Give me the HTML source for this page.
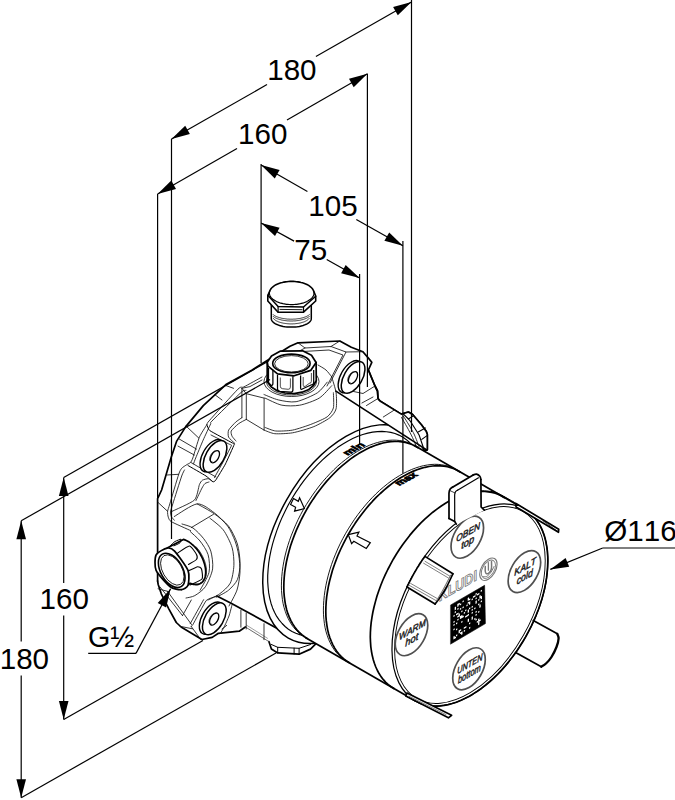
<!DOCTYPE html>
<html lang="de"><head><meta charset="utf-8"><title>KLUDI Unterputz-Einheit Ma&szlig;zeichnung</title>
<style>html,body{margin:0;padding:0;background:#fff}svg{display:block}</style></head>
<body>
<svg width="675" height="800" viewBox="0 0 675 800" font-family="'Liberation Sans', Arial, sans-serif" fill="#000" style="font-kerning:none">
<rect width="675" height="800" fill="#fff"/>
<path d="M157.6 581.0 L157.6 498.7 L161.6 490.0 L171.3 457.1 L176.7 441.1 L185.6 426.9 L203.3 405.6 L226.4 384.2 L252.2 370.0 L290.0 346.3 L298.0 342.8 L339.8 341.0 L351.3 347.2 L362.9 351.7 L368.2 357.9 L371.8 362.3 L368.4 370.0 L375.0 386.0 L377.5 391.0 L378.0 398.5 L380.0 401.0 L401.3 414.1 L408.4 412.0 L412.6 414.5 L421.6 425.0 L426.3 431.6 L427.3 434.6 L427.3 449.8 L423.3 450.7 L420.0 700.0 L311.7 640.3 L315.5 644.1 L310.5 649.1 L299.1 654.2 L277.7 652.9 L271.4 649.1 L268.9 641.6 L245.4 627.0 L239.2 631.2 L218.4 633.3 L212.2 637.4 L201.9 639.5 L181.1 627.0 L176.3 622.5 L168.8 608.8 L161.3 593.8 L158.2 584.5 Z" fill="#fff" stroke="#fff" stroke-width="0.1" stroke-linejoin="round" stroke-linecap="round"/>
<path d="M157.6 581.0 L157.6 498.7 L161.6 490.0 L171.3 457.1 L176.7 441.1 L185.6 426.9 L203.3 405.6 L226.4 384.2 L252.2 370.0 L290.0 346.3 L298.0 342.8 L339.8 341.0 L351.3 347.2 L362.9 351.7 L368.2 357.9 L371.8 362.3 L368.4 370.0 L375.0 386.0 L377.5 391.0 L378.0 398.5 L380.0 401.0 L401.3 414.1 L408.4 412.0 L412.6 414.5 L421.6 425.0 L426.3 431.6 L427.3 434.6 L427.3 449.8 L423.3 450.7" fill="none" stroke="#000" stroke-width="1.7" stroke-linejoin="round" stroke-linecap="round"/>
<path d="M311.7 640.3 L315.5 644.1 L310.5 649.1 L299.1 654.2 L277.7 652.9 L271.4 649.1 L268.9 641.6" fill="none" stroke="#000" stroke-width="1.7" stroke-linejoin="round" stroke-linecap="round"/>
<path d="M245.4 627.0 L239.2 631.2 L218.4 633.3 L212.2 637.4 L201.9 639.5 L181.1 627.0 L176.3 622.5 L168.8 608.8 L161.3 593.8 L158.2 584.5 L157.6 581.0" fill="none" stroke="#000" stroke-width="1.7" stroke-linejoin="round" stroke-linecap="round"/>
<path d="M268.9 641.6 L245.4 627.0" fill="none" stroke="#444" stroke-width="0.8" stroke-linejoin="round" stroke-linecap="round"/>
<path d="M267.5 638.3 L246.6 625.2" fill="none" stroke="#777" stroke-width="0.7" stroke-linejoin="round" stroke-linecap="round"/>
<path d="M216.9 596.1 L231.1 603.2 L280.0 629.9 L300.0 641.5" fill="none" stroke="#000" stroke-width="1.7" stroke-linejoin="round" stroke-linecap="round"/>
<path d="M262.0 377.0 C260.2 378.0 246.3 385.7 243.9 386.9 C241.5 388.1 241.5 385.7 238.0 389.1 C234.5 392.5 212.2 417.3 209.1 420.9 C206.0 424.4 207.9 423.0 206.9 424.6 C205.9 426.2 200.8 433.9 199.4 437.2 C198.0 440.5 193.7 455.5 192.8 458.0 C191.9 460.5 191.1 461.8 190.5 462.5 C189.9 463.2 187.8 464.0 186.9 464.6 C186.0 465.2 182.5 467.3 181.7 468.3 C180.9 469.3 179.9 470.7 178.7 474.3 C177.5 477.9 170.9 500.2 169.8 503.9 C168.7 507.6 167.8 510.0 167.6 511.3 C167.4 512.6 167.9 516.2 168.3 517.2 C168.7 518.2 169.1 520.4 171.3 521.7 C173.5 523.0 188.7 529.7 190.6 530.6" fill="none" stroke="#111" stroke-width="0.85" stroke-linejoin="round" stroke-linecap="round"/>
<path d="M246.0 390.5 C245.5 390.7 244.4 389.4 241.0 392.5 C237.6 395.6 215.0 417.9 212.0 421.0 C209.0 424.1 211.5 422.1 210.6 424.0 C209.7 425.9 204.6 436.8 203.1 440.2 C201.6 443.6 196.7 455.6 195.7 458.0 C194.7 460.4 193.7 463.3 193.5 463.9" fill="none" stroke="#111" stroke-width="0.85" stroke-linejoin="round" stroke-linecap="round"/>
<path d="M184.5 470.0 C184.2 470.6 182.9 472.6 181.7 476.0 C180.5 479.4 173.9 500.4 172.8 503.9 C171.7 507.4 170.8 510.0 170.6 511.3 C170.4 512.6 170.9 515.6 171.3 516.5 C171.7 517.4 174.0 519.8 174.3 520.2" fill="none" stroke="#111" stroke-width="0.85" stroke-linejoin="round" stroke-linecap="round"/>
<path d="M206.9 424.6 C207.1 425.0 208.1 429.4 209.8 430.6 C211.5 431.8 230.7 442.0 232.3 442.9 C233.9 443.8 234.7 443.1 234.2 444.5 C233.7 445.9 226.7 461.5 225.5 463.9 C224.3 466.3 216.5 479.0 215.7 480.2 C214.9 481.4 213.4 482.0 212.8 481.7 C212.2 481.4 207.7 477.1 206.0 476.0 C204.3 474.9 189.2 466.2 188.0 465.5" fill="none" stroke="#000" stroke-width="1.0" stroke-linejoin="round" stroke-linecap="round"/>
<path d="M211.0 435.0 C212.2 435.6 228.1 443.6 229.5 444.3 C230.9 445.0 231.9 444.6 231.4 445.8 C230.9 447.0 223.6 460.9 222.5 463.0 C221.4 465.1 215.0 476.5 214.5 477.5" fill="none" stroke="#111" stroke-width="0.85" stroke-linejoin="round" stroke-linecap="round"/>
<path d="M216.0 477.0 L208.0 472.5 L191.0 462.5" fill="none" stroke="#111" stroke-width="0.85" stroke-linejoin="round" stroke-linecap="round"/>
<path d="M170.6 512.0 C173.0 510.8 191.4 502.9 194.3 500.2 C197.2 497.5 198.6 486.6 199.4 484.6 C200.2 482.6 201.5 480.8 202.4 480.2 C203.3 479.6 207.3 478.6 208.3 478.7 C209.3 478.8 212.4 481.4 212.8 481.7" fill="none" stroke="#111" stroke-width="0.85" stroke-linejoin="round" stroke-linecap="round"/>
<path d="M174.3 516.5 C177.4 514.8 191.9 504.4 197.2 503.9 C202.5 503.4 210.2 509.8 214.3 512.8 C218.4 515.8 224.8 522.4 227.6 526.1 C230.4 529.8 233.5 537.0 235.0 540.9 C236.5 544.8 238.0 550.9 238.7 555.0 C239.4 559.1 240.2 567.3 240.0 572.0 C239.8 576.7 238.5 585.5 237.0 590.0 C235.5 594.5 230.1 603.9 229.0 606.0" fill="none" stroke="#111" stroke-width="0.85" stroke-linejoin="round" stroke-linecap="round"/>
<path d="M196.0 500.5 C196.6 499.2 201.1 489.7 202.0 488.0 C202.9 486.3 204.3 484.1 205.0 483.5 C205.7 482.9 208.6 482.1 209.0 482.0" fill="none" stroke="#111" stroke-width="0.85" stroke-linejoin="round" stroke-linecap="round"/>
<path d="M191.3 527.6 L213.5 514.3" fill="none" stroke="#111" stroke-width="0.85" stroke-linejoin="round" stroke-linecap="round"/>
<path d="M158.0 502.4 L167.6 511.3" fill="none" stroke="#111" stroke-width="0.85" stroke-linejoin="round" stroke-linecap="round"/>
<path d="M186.1 426.1 L198.7 438.0" fill="none" stroke="#111" stroke-width="0.85" stroke-linejoin="round" stroke-linecap="round"/>
<path d="M178.7 438.7 L196.5 449.1" fill="none" stroke="#111" stroke-width="0.85" stroke-linejoin="round" stroke-linecap="round"/>
<path d="M178.0 446.1 L194.3 455.0" fill="none" stroke="#111" stroke-width="0.85" stroke-linejoin="round" stroke-linecap="round"/>
<path d="M214.3 394.3 L222.0 400.0" fill="none" stroke="#111" stroke-width="0.85" stroke-linejoin="round" stroke-linecap="round"/>
<path d="M225.4 385.4 L233.5 388.3" fill="none" stroke="#111" stroke-width="0.85" stroke-linejoin="round" stroke-linecap="round"/>
<path d="M166.9 475.0 L178.7 474.3" fill="none" stroke="#111" stroke-width="0.85" stroke-linejoin="round" stroke-linecap="round"/>
<path d="M241.9 388.3 L241.9 417.7" fill="none" stroke="#111" stroke-width="0.85" stroke-linejoin="round" stroke-linecap="round"/>
<path d="M246.3 393.7 L246.3 419.4" fill="none" stroke="#111" stroke-width="0.85" stroke-linejoin="round" stroke-linecap="round"/>
<path d="M264.1 398.1 L264.1 430.1" fill="none" stroke="#111" stroke-width="0.85" stroke-linejoin="round" stroke-linecap="round"/>
<path d="M241.9 388.3 L246.3 393.7 L264.1 398.1" fill="none" stroke="#111" stroke-width="0.85" stroke-linejoin="round" stroke-linecap="round"/>
<path d="M246.3 419.4 L264.1 430.1" fill="none" stroke="#111" stroke-width="0.85" stroke-linejoin="round" stroke-linecap="round"/>
<path d="M241.9 388.3 L249.9 386.6 L262.0 380.0" fill="none" stroke="#111" stroke-width="0.85" stroke-linejoin="round" stroke-linecap="round"/>
<path d="M241.9 417.7 C241.3 418.1 237.0 420.9 235.7 422.1 C234.4 423.3 229.3 428.6 228.6 430.1 C227.9 431.6 228.0 435.9 228.6 437.2 C229.2 438.5 234.2 442.8 234.8 443.4" fill="none" stroke="#111" stroke-width="0.85" stroke-linejoin="round" stroke-linecap="round"/>
<path d="M246.3 419.4 C245.5 419.8 239.8 422.7 238.3 423.9 C236.8 425.1 231.8 429.8 231.2 431.0 C230.6 432.2 231.6 435.3 232.1 436.3 C232.6 437.3 235.6 440.5 236.0 441.0" fill="none" stroke="#111" stroke-width="0.85" stroke-linejoin="round" stroke-linecap="round"/>
<ellipse cx="212.1" cy="455.7" rx="17.8" ry="9.4" transform="rotate(-60 212.1 455.7)" fill="#fff" stroke="#000" stroke-width="1.4"/>
<ellipse cx="215.0" cy="456.4" rx="17.6" ry="9.2" transform="rotate(-60 215.0 456.4)" fill="#fff" stroke="#000" stroke-width="1.5"/>
<ellipse cx="214.9" cy="456.7" rx="6.7" ry="3.7" transform="rotate(-60 214.9 456.7)" fill="none" stroke="#000" stroke-width="1.3"/>
<path d="M212.0 461.7 L211.8 461.8 L211.6 461.7 L211.4 461.7 L211.3 461.7 L211.1 461.6 L211.0 461.6 L210.8 461.5 L210.7 461.4 L210.5 461.3 L210.4 461.2 L210.3 461.1 L210.2 460.9 L210.1 460.8 L210.0 460.6 L209.9 460.5 L209.9 460.3 L209.8 460.1 L209.8 459.9 L209.7 459.7 L209.7 459.5 L209.7 459.3 L209.7 459.0 L209.7 458.8 L209.7 458.6 L209.7 458.3 L209.7 458.0 L209.8 457.8 L209.8 457.5 L209.9 457.3 L209.9 457.0 L210.0 456.7 L210.1 456.5 L210.2 456.2 L210.3 455.9 L210.4 455.7 L210.6 455.4 L210.7 455.1 L210.8 454.9 L211.0 454.6 L211.1 454.4 L211.3 454.1 L211.4 453.9 L211.6 453.6 L211.8 453.4 L212.0 453.2 L212.2 452.9 L212.4 452.7 L212.5 452.5 L212.7 452.3 L212.9 452.2 L213.1 452.0 L213.3 451.8 L213.6 451.7 L213.8 451.5 L214.0 451.4 L214.2 451.3 L214.4 451.2 L214.6 451.1 L214.8 451.0 L215.0 451.0" fill="none" stroke="#111" stroke-width="0.85" stroke-linejoin="round" stroke-linecap="round"/>
<ellipse cx="350.2" cy="376.7" rx="17.8" ry="9.4" transform="rotate(-60 350.2 376.7)" fill="#fff" stroke="#000" stroke-width="1.4"/>
<ellipse cx="353.1" cy="377.4" rx="17.6" ry="9.2" transform="rotate(-60 353.1 377.4)" fill="#fff" stroke="#000" stroke-width="1.5"/>
<ellipse cx="353.0" cy="377.7" rx="6.7" ry="3.7" transform="rotate(-60 353.0 377.7)" fill="none" stroke="#000" stroke-width="1.3"/>
<path d="M350.1 382.7 L349.9 382.8 L349.7 382.7 L349.5 382.7 L349.4 382.7 L349.2 382.6 L349.1 382.6 L348.9 382.5 L348.8 382.4 L348.6 382.3 L348.5 382.2 L348.4 382.1 L348.3 381.9 L348.2 381.8 L348.1 381.6 L348.0 381.5 L348.0 381.3 L347.9 381.1 L347.9 380.9 L347.8 380.7 L347.8 380.5 L347.8 380.3 L347.8 380.0 L347.8 379.8 L347.8 379.6 L347.8 379.3 L347.8 379.0 L347.9 378.8 L347.9 378.5 L348.0 378.3 L348.0 378.0 L348.1 377.7 L348.2 377.5 L348.3 377.2 L348.4 376.9 L348.5 376.7 L348.7 376.4 L348.8 376.1 L348.9 375.9 L349.1 375.6 L349.2 375.4 L349.4 375.1 L349.5 374.9 L349.7 374.6 L349.9 374.4 L350.1 374.2 L350.3 373.9 L350.5 373.7 L350.6 373.5 L350.8 373.3 L351.0 373.2 L351.2 373.0 L351.4 372.8 L351.7 372.7 L351.9 372.5 L352.1 372.4 L352.3 372.3 L352.5 372.2 L352.7 372.1 L352.9 372.0 L353.1 372.0" fill="none" stroke="#111" stroke-width="0.85" stroke-linejoin="round" stroke-linecap="round"/>
<ellipse cx="211.4" cy="618.1" rx="17.8" ry="9.4" transform="rotate(-60 211.4 618.1)" fill="#fff" stroke="#000" stroke-width="1.4"/>
<ellipse cx="214.3" cy="618.8" rx="17.6" ry="9.2" transform="rotate(-60 214.3 618.8)" fill="#fff" stroke="#000" stroke-width="1.5"/>
<ellipse cx="214.2" cy="619.1" rx="6.7" ry="3.7" transform="rotate(-60 214.2 619.1)" fill="none" stroke="#000" stroke-width="1.3"/>
<path d="M211.3 624.1 L211.1 624.2 L210.9 624.1 L210.7 624.1 L210.6 624.1 L210.4 624.0 L210.3 624.0 L210.1 623.9 L210.0 623.8 L209.8 623.7 L209.7 623.6 L209.6 623.5 L209.5 623.3 L209.4 623.2 L209.3 623.0 L209.2 622.9 L209.2 622.7 L209.1 622.5 L209.1 622.3 L209.0 622.1 L209.0 621.9 L209.0 621.7 L209.0 621.4 L209.0 621.2 L209.0 621.0 L209.0 620.7 L209.0 620.4 L209.1 620.2 L209.1 619.9 L209.2 619.7 L209.2 619.4 L209.3 619.1 L209.4 618.9 L209.5 618.6 L209.6 618.3 L209.7 618.1 L209.9 617.8 L210.0 617.5 L210.1 617.3 L210.3 617.0 L210.4 616.8 L210.6 616.5 L210.7 616.3 L210.9 616.0 L211.1 615.8 L211.3 615.6 L211.5 615.3 L211.7 615.1 L211.8 614.9 L212.0 614.7 L212.2 614.6 L212.4 614.4 L212.6 614.2 L212.9 614.1 L213.1 613.9 L213.3 613.8 L213.5 613.7 L213.7 613.6 L213.9 613.5 L214.1 613.4 L214.3 613.4" fill="none" stroke="#111" stroke-width="0.85" stroke-linejoin="round" stroke-linecap="round"/>
<path d="M216.9 596.1 C216.2 596.4 207.8 598.7 206.2 600.6 C204.6 602.5 193.9 622.9 192.9 624.6 C191.9 626.3 191.2 626.2 191.1 626.3" fill="none" stroke="#111" stroke-width="0.85" stroke-linejoin="round" stroke-linecap="round"/>
<path d="M203.6 599.7 C201.8 602.9 192.0 620.5 190.2 623.7" fill="none" stroke="#111" stroke-width="0.85" stroke-linejoin="round" stroke-linecap="round"/>
<path d="M191.1 626.3 L200.9 639.7" fill="none" stroke="#111" stroke-width="0.85" stroke-linejoin="round" stroke-linecap="round"/>
<path d="M158.1 588.8 L167.5 591.3" fill="none" stroke="#111" stroke-width="0.85" stroke-linejoin="round" stroke-linecap="round"/>
<path d="M160.0 586.9 L182.5 615.6" fill="none" stroke="#111" stroke-width="0.85" stroke-linejoin="round" stroke-linecap="round"/>
<path d="M167.5 591.3 L191.5 624.5" fill="none" stroke="#111" stroke-width="0.85" stroke-linejoin="round" stroke-linecap="round"/>
<path d="M182.5 615.6 L191.3 600.0" fill="none" stroke="#111" stroke-width="0.85" stroke-linejoin="round" stroke-linecap="round"/>
<path d="M180.0 626.3 L192.5 628.8" fill="none" stroke="#111" stroke-width="0.85" stroke-linejoin="round" stroke-linecap="round"/>
<path d="M232.0 605.0 C231.7 606.1 229.8 613.8 229.0 616.0 C228.2 618.2 224.9 625.5 224.0 627.2 C223.1 628.9 220.8 632.8 220.4 633.4" fill="none" stroke="#111" stroke-width="0.85" stroke-linejoin="round" stroke-linecap="round"/>
<path d="M222.0 629.0 L226.7 625.4" fill="none" stroke="#111" stroke-width="0.85" stroke-linejoin="round" stroke-linecap="round"/>
<path d="M240.9 610.3 L240.9 627.2" fill="none" stroke="#111" stroke-width="0.85" stroke-linejoin="round" stroke-linecap="round"/>
<path d="M246.2 613.0 L246.2 629.0" fill="none" stroke="#111" stroke-width="0.85" stroke-linejoin="round" stroke-linecap="round"/>
<path d="M264.0 623.7 L264.0 639.7" fill="none" stroke="#111" stroke-width="0.85" stroke-linejoin="round" stroke-linecap="round"/>
<path d="M298.0 342.8 L305.0 348.0 L331.0 346.5 L346.0 352.0 L330.0 383.0" fill="none" stroke="#111" stroke-width="0.85" stroke-linejoin="round" stroke-linecap="round"/>
<path d="M303.0 351.5 L329.0 350.0 L343.0 355.0 L327.0 386.0" fill="none" stroke="#111" stroke-width="0.85" stroke-linejoin="round" stroke-linecap="round"/>
<path d="M346.0 352.0 L362.9 351.7" fill="none" stroke="#111" stroke-width="0.85" stroke-linejoin="round" stroke-linecap="round"/>
<path d="M331.0 346.5 L339.8 341.0" fill="none" stroke="#111" stroke-width="0.85" stroke-linejoin="round" stroke-linecap="round"/>
<path d="M305.0 348.0 L290.0 356.0" fill="none" stroke="#111" stroke-width="0.85" stroke-linejoin="round" stroke-linecap="round"/>
<path d="M331.7 376.8 C332.2 378.7 335.6 389.1 336.1 392.8 C336.6 396.5 336.8 405.9 336.1 408.8 C335.4 411.7 332.5 415.6 329.9 417.7 C327.3 419.8 318.3 424.8 313.9 426.6 C309.5 428.4 297.2 432.0 292.6 432.8 C288.0 433.6 278.1 434.0 274.8 433.7 C271.5 433.4 265.3 430.5 264.1 430.1" fill="none" stroke="#111" stroke-width="0.85" stroke-linejoin="round" stroke-linecap="round"/>
<path d="M333.4 392.8 C333.4 394.6 334.1 405.1 333.4 407.9 C332.7 410.7 329.7 414.9 327.2 416.8 C324.7 418.7 316.1 422.3 312.1 423.9 C308.1 425.5 296.8 429.3 292.6 430.1 C288.4 430.9 278.9 431.3 275.7 431.0 C272.5 430.7 266.2 427.8 265.0 427.4" fill="none" stroke="#111" stroke-width="0.85" stroke-linejoin="round" stroke-linecap="round"/>
<path d="M265.0 398.1 C267.3 399.0 277.3 404.3 281.9 405.2 C286.5 406.1 294.7 406.1 299.7 405.2 C304.7 404.3 314.9 400.7 319.2 398.1 C323.5 395.5 330.0 387.4 331.7 385.7" fill="none" stroke="#111" stroke-width="0.85" stroke-linejoin="round" stroke-linecap="round"/>
<path d="M264.0 394.5 C265.9 395.2 274.0 398.9 278.3 399.9 C282.6 400.9 290.9 402.6 296.1 401.7 C301.3 400.8 313.3 395.4 317.4 392.8 C321.5 390.2 325.9 383.5 327.2 382.1" fill="none" stroke="#111" stroke-width="0.85" stroke-linejoin="round" stroke-linecap="round"/>
<path d="M318.0 365.0 C319.1 365.7 324.2 368.4 326.0 370.0 C327.8 371.6 330.9 375.9 331.7 376.8" fill="none" stroke="#111" stroke-width="0.85" stroke-linejoin="round" stroke-linecap="round"/>
<ellipse cx="291.5" cy="381.5" rx="27.5" ry="15.0" transform="rotate(0 291.5 381.5)" fill="none" stroke="#111" stroke-width="0.85"/>
<ellipse cx="291.5" cy="381.5" rx="25.0" ry="13.5" transform="rotate(0 291.5 381.5)" fill="none" stroke="#111" stroke-width="0.85"/>
<path d="M267.2 362.2 L267.2 381.5 L271.0 386.8 L277.5 391.0 L285.0 393.0 L294.1 393.6 L302.0 392.2 L308.3 389.8 L313.5 385.5 L316.3 380.5 L316.1 362.5 L311.5 355.3 L302.6 350.8 L280.5 351.1 L271.5 356.0 Z" fill="#fff" stroke="#000" stroke-width="1.7" stroke-linejoin="round" stroke-linecap="round"/>
<path d="M267.2 362.2 L268.0 366.1 L277.5 373.8 L294.1 375.8 L310.7 370.4 L316.1 362.5" fill="none" stroke="#000" stroke-width="1.7" stroke-linejoin="round" stroke-linecap="round"/>
<ellipse cx="291.4" cy="363.4" rx="18.7" ry="9.3" transform="rotate(0 291.4 363.4)" fill="none" stroke="#000" stroke-width="1.6"/>
<ellipse cx="291.4" cy="363.8" rx="16.8" ry="8.2" transform="rotate(0 291.4 363.8)" fill="none" stroke="#111" stroke-width="0.85"/>
<path d="M277.5 375.0 L277.5 388.8 Q277.5 391.0 279.7 391.4 L290.7 392.2 Q292.9 392.2 292.9 390.0 L292.9 376.2" fill="none" stroke="#000" stroke-width="1.25" stroke-linejoin="round"/>
<path d="M280.3 377.5 L280.3 386.2 Q280.3 388.4 282.5 388.7 L288.2 389.3 Q290.4 389.3 290.4 387.1 L290.4 378.4" fill="none" stroke="#000" stroke-width="0.7" stroke-linejoin="round"/>
<path d="M300.6 375.5 L300.6 388.1 Q300.6 390.3 302.8 388.7 L311.5 384.8 Q313.7 384.8 313.7 382.6 L313.7 370.0" fill="none" stroke="#000" stroke-width="1.25" stroke-linejoin="round"/>
<path d="M303.2 377.0 L303.2 385.2 Q303.2 387.4 305.4 386.2 L309.2 383.4 Q311.4 383.4 311.4 381.2 L311.4 373.0" fill="none" stroke="#000" stroke-width="0.7" stroke-linejoin="round"/>
<path d="M268.5 368.0 L268.5 381.8 Q268.5 384.0 270.7 384.5 L270.7 385.8 Q272.9 385.8 272.9 383.6 L272.9 369.8" fill="none" stroke="#000" stroke-width="1.25" stroke-linejoin="round"/>
<path d="M271.3 303.0 L271.3 318.5 L271.3 318.5 L271.4 319.4 L271.7 320.3 L272.3 321.2 L273.0 322.0 L274.0 322.8 L275.1 323.6 L276.4 324.3 L277.9 324.9 L279.5 325.5 L281.3 325.9 L283.2 326.4 L285.1 326.7 L287.1 326.9 L289.2 327.1 L291.3 327.1 L293.4 327.1 L295.5 326.9 L297.5 326.7 L299.4 326.4 L301.3 325.9 L303.1 325.5 L304.7 324.9 L306.2 324.3 L307.5 323.6 L308.6 322.8 L309.6 322.0 L310.3 321.2 L310.9 320.3 L311.2 319.4 L311.3 318.5 L311.3 303.0" fill="#fff" stroke="#000" stroke-width="1.5" stroke-linejoin="round" stroke-linecap="round"/>
<path d="M309.4 316.4 L309.1 316.7 L308.7 316.9 L308.4 317.2 L307.9 317.4 L307.5 317.7 L307.1 317.9 L306.6 318.2 L306.1 318.4 L305.6 318.6 L305.0 318.8 L304.5 319.0 L303.9 319.2 L303.3 319.4 L302.7 319.6 L302.0 319.7 L301.4 319.9 L300.7 320.1 L300.1 320.2 L299.4 320.3 L298.7 320.4 L298.0 320.5 L297.3 320.6 L296.5 320.7 L295.8 320.8 L295.1 320.9 L294.3 320.9 L293.6 320.9 L292.8 321.0 L292.1 321.0 L291.3 321.0 L290.5 321.0 L289.8 321.0 L289.0 320.9 L288.3 320.9 L287.5 320.9 L286.8 320.8 L286.1 320.7 L285.3 320.6 L284.6 320.5 L283.9 320.4 L283.2 320.3 L282.5 320.2 L281.9 320.1 L281.2 319.9 L280.6 319.7 L279.9 319.6 L279.3 319.4 L278.7 319.2 L278.1 319.0 L277.6 318.8 L277.0 318.6 L276.5 318.4 L276.0 318.2 L275.5 317.9 L275.1 317.7 L274.7 317.4 L274.2 317.2 L273.9 316.9 L273.5 316.7 L273.2 316.4" fill="none" stroke="#111" stroke-width="0.85" stroke-linejoin="round" stroke-linecap="round"/>
<path d="M309.4 314.6 L309.1 314.9 L308.7 315.1 L308.4 315.4 L307.9 315.6 L307.5 315.9 L307.1 316.1 L306.6 316.4 L306.1 316.6 L305.6 316.8 L305.0 317.0 L304.5 317.2 L303.9 317.4 L303.3 317.6 L302.7 317.8 L302.0 317.9 L301.4 318.1 L300.7 318.3 L300.1 318.4 L299.4 318.5 L298.7 318.6 L298.0 318.7 L297.3 318.8 L296.5 318.9 L295.8 319.0 L295.1 319.1 L294.3 319.1 L293.6 319.1 L292.8 319.2 L292.1 319.2 L291.3 319.2 L290.5 319.2 L289.8 319.2 L289.0 319.1 L288.3 319.1 L287.5 319.1 L286.8 319.0 L286.1 318.9 L285.3 318.8 L284.6 318.7 L283.9 318.6 L283.2 318.5 L282.5 318.4 L281.9 318.3 L281.2 318.1 L280.6 317.9 L279.9 317.8 L279.3 317.6 L278.7 317.4 L278.1 317.2 L277.6 317.0 L277.0 316.8 L276.5 316.6 L276.0 316.4 L275.5 316.1 L275.1 315.9 L274.7 315.6 L274.2 315.4 L273.9 315.1 L273.5 314.9 L273.2 314.6" fill="none" stroke="#111" stroke-width="0.85" stroke-linejoin="round" stroke-linecap="round"/>
<path d="M267.8 295.5 L267.8 301.0 L278.1 312.2 L303.5 312.2 L315.7 301.0 L315.7 296.0 L313.8 291.4 L313.5 290.6 L313.1 289.8 L312.6 289.0 L312.0 288.2 L311.3 287.5 L310.5 286.8 L309.6 286.1 L308.6 285.4 L307.5 284.8 L306.3 284.2 L305.1 283.7 L303.8 283.2 L302.4 282.8 L301.0 282.5 L299.5 282.1 L298.0 281.9 L296.5 281.7 L294.9 281.5 L293.3 281.4 L291.7 281.4 L290.1 281.4 L288.5 281.5 L286.9 281.7 L285.4 281.9 L283.9 282.1 L282.4 282.5 L281.0 282.8 L279.6 283.2 L278.3 283.7 L277.1 284.2 L275.9 284.8 L274.8 285.4 L273.8 286.1 L272.9 286.8 L272.1 287.5 L271.4 288.2 L270.8 289.0 L270.3 289.8 L269.9 290.6 L269.6 291.4 Z" fill="#fff" stroke="#000" stroke-width="1.6" stroke-linejoin="round" stroke-linecap="round"/>
<path d="M267.8 295.3 L278.1 306.6 L303.5 307.0 L315.7 296.3" fill="none" stroke="#000" stroke-width="1.5" stroke-linejoin="round" stroke-linecap="round"/>
<path d="M278.1 306.6 L278.1 312.2" fill="none" stroke="#000" stroke-width="1.2" stroke-linejoin="round" stroke-linecap="round"/>
<path d="M303.5 307.0 L303.5 312.2" fill="none" stroke="#000" stroke-width="1.2" stroke-linejoin="round" stroke-linecap="round"/>
<path d="M313.8 291.4 L313.9 292.0 L314.0 292.7 L314.0 293.4 L313.9 294.0 L313.8 294.7 L313.5 295.3 L313.3 296.0 L312.9 296.6 L312.5 297.2 L312.0 297.8 L311.4 298.4 L310.8 299.0 L310.1 299.6 L309.3 300.1 L308.5 300.6 L307.7 301.1 L306.8 301.6 L305.8 302.0 L304.8 302.4 L303.7 302.8 L302.6 303.1 L301.5 303.4 L300.4 303.7 L299.2 303.9 L298.0 304.1 L296.7 304.3 L295.5 304.4 L294.2 304.5 L293.0 304.6 L291.7 304.6 L290.4 304.6 L289.2 304.5 L287.9 304.4 L286.7 304.3 L285.4 304.1 L284.2 303.9 L283.0 303.7 L281.9 303.4 L280.8 303.1 L279.7 302.8 L278.6 302.4 L277.6 302.0 L276.6 301.6 L275.7 301.1 L274.9 300.6 L274.1 300.1 L273.3 299.6 L272.6 299.0 L272.0 298.4 L271.4 297.8 L270.9 297.2 L270.5 296.6 L270.1 296.0 L269.9 295.3 L269.6 294.7 L269.5 294.0 L269.4 293.4 L269.4 292.7 L269.5 292.0 L269.6 291.4" fill="none" stroke="#000" stroke-width="1.2" stroke-linejoin="round" stroke-linecap="round"/>
<path d="M280.0 309.4 L302.0 309.7" fill="none" stroke="#000" stroke-width="0.9" stroke-linejoin="round" stroke-linecap="round"/>
<path d="M309.3 318.3 L309.0 318.6 L308.8 318.9 L308.5 319.2 L308.2 319.5 L307.8 319.8 L307.4 320.1 L307.0 320.4 L306.5 320.7 L306.1 320.9 L305.5 321.2 L305.0 321.4 L304.5 321.7 L303.9 321.9 L303.3 322.1 L302.6 322.3 L302.0 322.5 L301.3 322.7 L300.6 322.9 L299.9 323.0 L299.2 323.2 L298.4 323.3 L297.7 323.4 L296.9 323.5 L296.1 323.6 L295.3 323.7 L294.5 323.8 L293.7 323.8 L292.9 323.9 L292.1 323.9 L291.3 323.9 L290.5 323.9 L289.7 323.9 L288.9 323.8 L288.1 323.8 L287.3 323.7 L286.5 323.6 L285.7 323.5 L284.9 323.4 L284.2 323.3 L283.4 323.2 L282.7 323.0 L282.0 322.9 L281.3 322.7 L280.6 322.5 L280.0 322.3 L279.3 322.1 L278.7 321.9 L278.1 321.7 L277.6 321.4 L277.1 321.2 L276.5 320.9 L276.1 320.7 L275.6 320.4 L275.2 320.1 L274.8 319.8 L274.4 319.5 L274.1 319.2 L273.8 318.9 L273.6 318.6 L273.3 318.3" fill="none" stroke="#111" stroke-width="0.85" stroke-linejoin="round" stroke-linecap="round"/>
<path d="M197.2 503.9 C199.5 505.2 210.1 510.8 214.3 513.8 C218.5 516.8 225.5 522.2 228.6 526.2 C231.7 530.2 235.9 539.0 237.4 544.0 C238.9 549.0 240.1 558.9 240.1 563.6 C240.1 568.3 238.9 576.1 237.4 579.6 C235.9 583.1 231.4 587.8 228.6 590.2 C225.8 592.6 217.8 596.4 216.1 597.3" fill="none" stroke="#111" stroke-width="0.85" stroke-linejoin="round" stroke-linecap="round"/>
<path d="M209.9 518.2 C211.7 519.7 220.2 525.9 223.2 529.8 C226.2 533.7 230.7 542.9 232.1 547.6 C233.5 552.3 234.1 560.6 233.9 565.3 C233.7 570.0 232.2 579.3 230.3 583.1 C228.4 586.9 222.7 591.5 219.7 593.8 C216.7 596.1 209.6 599.2 208.0 600.0" fill="none" stroke="#111" stroke-width="0.85" stroke-linejoin="round" stroke-linecap="round"/>
<path d="M182.0 524.0 C183.5 524.5 190.1 526.0 193.0 528.0 C195.9 530.0 201.3 535.6 203.7 538.7 C206.1 541.8 209.6 547.1 210.8 551.1 C212.0 555.1 213.3 564.2 212.6 568.9 C211.9 573.6 207.8 583.1 205.4 586.7 C203.0 590.3 197.4 594.1 194.8 595.6 C192.2 597.1 187.2 597.7 186.0 598.0" fill="none" stroke="#111" stroke-width="0.85" stroke-linejoin="round" stroke-linecap="round"/>
<path d="M190.3 531.6 C191.6 532.9 197.6 537.9 200.0 541.0 C202.4 544.1 206.9 550.5 208.1 554.7 C209.3 558.9 210.1 567.7 209.0 572.4 C207.9 577.1 201.3 587.8 200.1 590.2" fill="none" stroke="#111" stroke-width="0.85" stroke-linejoin="round" stroke-linecap="round"/>
<path d="M167.2 548.1 L183.4 539.4 L184.8 539.9 L186.3 540.5 L187.7 541.2 L189.2 542.1 L190.6 543.1 L192.0 544.3 L193.4 545.5 L194.8 546.9 L196.1 548.3 L197.4 549.9 L198.6 551.5 L199.7 553.2 L200.7 555.0 L201.7 556.8 L202.6 558.6 L203.3 560.5 L204.0 562.4 L204.6 564.3 L205.0 566.1 L205.4 567.9 L205.6 569.7 L205.7 571.4 L205.7 573.1 L205.5 574.7 L205.3 576.2 L204.9 577.6 L204.4 578.9 L203.8 580.1 L203.1 581.1 L202.3 582.1 L201.4 582.8 L200.4 583.5 L199.3 584.0 L198.2 584.4 L197.0 584.6 L195.7 584.6 L194.4 584.5 L193.0 584.3 L191.6 583.9 L190.2 583.3 L181.3 589.6 Z" fill="#fff" stroke="#000" stroke-width="1.7" stroke-linejoin="round" stroke-linecap="round"/>
<path d="M196.3 547.0 L196.9 547.8 L197.5 548.5 L198.2 549.3 L198.8 550.1 L199.4 550.9 L199.9 551.8 L200.5 552.6 L201.0 553.5 L201.5 554.4 L202.0 555.3 L202.5 556.2 L202.9 557.1 L203.3 558.0 L203.7 558.9 L204.1 559.8 L204.5 560.8 L204.8 561.7 L205.1 562.6 L205.3 563.5 L205.6 564.5 L205.8 565.4 L206.0 566.3 L206.1 567.2 L206.3 568.1 L206.4 569.0 L206.4 569.8 L206.5 570.7 L206.5 571.5 L206.5 572.3 L206.4 573.1 L206.3 573.9 L206.2 574.7 L206.1 575.4 L205.9 576.1 L205.7 576.8 L205.5 577.5 L205.3 578.1 L205.0 578.7 L204.7 579.3 L204.4 579.9 L204.0 580.4 L203.6 580.9 L203.2 581.3 L202.8 581.8 L202.3 582.1 L201.9 582.5 L201.4 582.8 L200.9 583.1 L200.3 583.3 L199.8 583.5 L199.2 583.7 L198.6 583.8 L198.0 583.9 L197.4 584.0 L196.7 584.0 L196.1 584.0 L195.4 583.9 L194.7 583.9 L194.1 583.7 L193.4 583.6" fill="none" stroke="#111" stroke-width="0.85" stroke-linejoin="round" stroke-linecap="round"/>
<path d="M156.1 554.8 C157.4 552.2 165.0 548.5 167.2 548.1 C169.4 547.7 172.2 548.5 174.6 551.1 C177.0 553.7 186.4 566.4 188.0 570.4 C189.6 574.4 188.8 583.0 188.0 585.2 C187.2 587.4 183.4 589.4 181.3 589.6 C179.2 589.8 173.1 588.9 170.2 586.7 C167.3 584.5 157.7 574.1 156.1 570.4 C154.5 566.7 154.8 557.4 156.1 554.8 Z" fill="#fff" stroke="#000" stroke-width="1.7" stroke-linejoin="round" stroke-linecap="round"/>
<ellipse cx="171.7" cy="570.4" rx="18.8" ry="10.9" transform="rotate(60 171.7 570.4)" fill="none" stroke="#000" stroke-width="1.6"/>
<ellipse cx="172.3" cy="570.0" rx="16.6" ry="9.6" transform="rotate(60 172.3 570.0)" fill="none" stroke="#111" stroke-width="0.85"/>
<path d="M177.0 553.5 C178.2 552.8 187.5 545.9 189.4 546.0 C191.3 546.1 195.8 553.1 196.5 554.5 C197.2 555.9 197.3 558.5 196.5 559.5 C195.7 560.5 189.3 564.0 188.5 564.5" fill="none" stroke="#000" stroke-width="1.1" stroke-linejoin="round" stroke-linecap="round"/>
<path d="M188.5 571.0 C189.4 570.6 196.3 566.9 197.6 566.7 C198.9 566.5 201.1 567.8 201.5 569.0 C201.9 570.2 203.2 577.4 202.0 579.0 C200.8 580.6 191.2 584.4 190.0 585.0" fill="none" stroke="#000" stroke-width="1.1" stroke-linejoin="round" stroke-linecap="round"/>
<path d="M170.5 545.5 C170.9 545.1 173.9 542.1 175.0 541.5 C176.1 540.9 180.5 539.1 181.0 539.2 C181.5 539.3 180.7 542.1 180.0 542.8 C179.3 543.5 174.6 545.5 174.0 545.8" fill="none" stroke="#000" stroke-width="1.0" stroke-linejoin="round" stroke-linecap="round"/>
<path d="M271.4 644.5 L277.7 647.3 L299.1 648.3 L310.5 644.5" fill="none" stroke="#000" stroke-width="1.0" stroke-linejoin="round" stroke-linecap="round"/>
<path d="M277.7 647.3 L277.7 652.9" fill="none" stroke="#000" stroke-width="1.0" stroke-linejoin="round" stroke-linecap="round"/>
<path d="M294.1 648.1 L294.1 654.0" fill="none" stroke="#000" stroke-width="1.0" stroke-linejoin="round" stroke-linecap="round"/>
<path d="M299.1 648.3 L299.1 654.2" fill="none" stroke="#000" stroke-width="1.0" stroke-linejoin="round" stroke-linecap="round"/>
<ellipse cx="347.1" cy="534.1" rx="119.4" ry="69.5" transform="rotate(-60.5 347.1 534.1)" fill="#fff" stroke="#000" stroke-width="1.45"/>
<path d="M327.3 634.1 L322.4 635.3 L317.6 636.0 L312.9 636.3 L308.4 636.2 L304.0 635.6 L299.8 634.6 L295.8 633.2 L292.0 631.4 L288.4 629.2 L285.1 626.5 L282.1 623.5 L279.3 620.1 L276.7 616.4 L274.5 612.3 L272.6 607.9 L271.0 603.2 L269.7 598.1 L268.7 592.9 L268.1 587.3 L267.7 581.6 L267.7 575.6 L268.1 569.5 L268.7 563.2 L269.7 556.9 L271.0 550.4 L272.6 543.8 L274.6 537.2 L276.8 530.6 L279.3 524.0 L282.1 517.4 L285.2 510.9 L288.5 504.5 L292.1 498.3 L295.9 492.1 L299.9 486.2 L304.1 480.4 L308.5 474.9 L313.0 469.6 L317.7 464.6 L322.5 459.9 L327.4 455.5 L332.4 451.4 L337.4 447.6 L342.5 444.2 L347.6 441.2 L352.7 438.6 L357.8 436.3 L362.8 434.5 L367.8 433.1 L372.6 432.1 L377.4 431.6 L382.0 431.4 L386.5 431.7 L390.8 432.4 L395.0 433.5 L398.9 435.1 L402.6 437.1 L406.1 439.4 L409.3 442.2 L412.3 445.3" fill="none" stroke="#000" stroke-width="1.15" stroke-linejoin="round" stroke-linecap="round"/>
<path d="M362.0 408.0 L426.3 449.6 L423.3 450.7 L427.3 449.8 L427.3 434.6 L426.3 431.6 L421.6 425.0 L412.6 414.5 L408.4 412.0 L401.3 414.1 L380.0 401.0 Z" fill="#fff" stroke="#fff" stroke-width="0.1" stroke-linejoin="round" stroke-linecap="round"/>
<path d="M335.9 391.1 L426.3 449.6" fill="none" stroke="#000" stroke-width="1.7" stroke-linejoin="round" stroke-linecap="round"/>
<path d="M368.4 370.0 L375.0 386.0 L377.5 391.0 L378.0 398.5 L380.0 401.0 L401.3 414.1 L408.4 412.0 L412.6 414.5 L421.6 425.0 L426.3 431.6 L427.3 434.6 L427.3 449.8 L423.3 450.7" fill="none" stroke="#000" stroke-width="1.7" stroke-linejoin="round" stroke-linecap="round"/>
<path d="M375.0 386.0 L363.0 393.5 L353.5 391.5" fill="none" stroke="#111" stroke-width="0.85" stroke-linejoin="round" stroke-linecap="round"/>
<path d="M378.0 398.5 L366.5 405.5" fill="none" stroke="#111" stroke-width="0.85" stroke-linejoin="round" stroke-linecap="round"/>
<path d="M361.9 403.0 L373.0 397.0" fill="none" stroke="#111" stroke-width="0.85" stroke-linejoin="round" stroke-linecap="round"/>
<path d="M383.3 417.0 L393.7 410.4" fill="none" stroke="#111" stroke-width="0.85" stroke-linejoin="round" stroke-linecap="round"/>
<path d="M403.5 414.1 L408.4 419.0 L410.7 421.7 L419.1 435.0 L423.6 448.3" fill="none" stroke="#000" stroke-width="1.1" stroke-linejoin="round" stroke-linecap="round"/>
<path d="M408.4 419.0 L413.3 415.9" fill="none" stroke="#000" stroke-width="1.1" stroke-linejoin="round" stroke-linecap="round"/>
<path d="M418.2 431.9 L425.3 427.9" fill="none" stroke="#000" stroke-width="1.1" stroke-linejoin="round" stroke-linecap="round"/>
<path d="M421.8 439.4 L426.7 435.9" fill="none" stroke="#000" stroke-width="1.1" stroke-linejoin="round" stroke-linecap="round"/>
<path d="M403.5 416.3 C404.2 417.5 407.5 422.5 409.0 425.0 C410.5 427.5 413.2 432.1 414.5 435.0 C415.8 437.9 418.5 445.1 419.1 446.6" fill="none" stroke="#111" stroke-width="0.85" stroke-linejoin="round" stroke-linecap="round"/>
<path d="M401.5 417.5 C402.2 418.8 405.5 424.3 407.0 427.0 C408.5 429.7 411.2 434.8 412.5 437.5 C413.8 440.2 416.0 445.7 416.5 447.0" fill="none" stroke="#111" stroke-width="0.85" stroke-linejoin="round" stroke-linecap="round"/>
<path d="M305.3 637.4 L302.5 635.6 L299.8 633.5 L297.3 631.2 L294.9 628.7 L292.7 625.9 L290.7 622.9 L288.9 619.6 L287.3 616.2 L285.9 612.5 L284.7 608.7 L283.7 604.6 L282.9 600.4 L282.3 596.1 L281.9 591.5 L281.7 586.9 L281.8 582.1 L282.1 577.2 L282.5 572.2 L283.2 567.1 L284.1 562.0 L285.2 556.8 L286.5 551.5 L288.0 546.2 L289.7 541.0 L291.6 535.7 L293.7 530.4 L296.0 525.1 L298.4 519.9 L301.0 514.8 L303.8 509.7 L306.7 504.8 L309.8 499.9 L313.0 495.1 L316.3 490.5 L319.7 486.0 L323.3 481.6 L327.0 477.4 L330.7 473.4 L334.5 469.6 L338.4 466.0 L342.4 462.6 L346.4 459.3 L350.4 456.4 L354.5 453.6 L358.6 451.1 L362.6 448.9 L366.7 446.9 L370.8 445.1 L374.8 443.6 L378.8 442.4 L382.7 441.5 L386.6 440.8 L390.3 440.4 L394.0 440.3 L397.7 440.4 L401.2 440.9 L404.6 441.6 L407.8 442.6 L411.0 443.8 L414.0 445.3 L524.2 509.0 L527.1 510.8 L529.8 512.8 L532.3 515.1 L534.6 517.7 L536.8 520.5 L538.8 523.5 L540.6 526.7 L542.2 530.2 L543.7 533.8 L544.9 537.7 L545.9 541.7 L546.7 545.9 L547.3 550.3 L547.6 554.8 L547.8 559.5 L547.8 564.3 L547.5 569.2 L547.0 574.1 L546.3 579.2 L545.4 584.4 L544.3 589.6 L543.0 594.8 L541.5 600.1 L539.8 605.4 L537.9 610.7 L535.8 616.0 L533.6 621.2 L531.1 626.4 L528.5 631.5 L525.8 636.6 L522.9 641.6 L519.8 646.5 L516.6 651.2 L513.3 655.9 L509.8 660.4 L506.3 664.7 L502.6 668.9 L498.9 672.9 L495.0 676.7 L491.1 680.4 L487.2 683.8 L483.2 687.0 L479.1 690.0 L475.1 692.7 L471.0 695.2 L466.9 697.5 L462.9 699.5 L458.8 701.2 L454.8 702.7 L450.8 703.9 L446.9 704.9 L443.0 705.6 L439.2 706.0 L435.5 706.1 L431.9 705.9 L428.4 705.5 L425.0 704.8 L421.7 703.8 L418.6 702.5 L415.6 701.0 Z" fill="#fff" stroke="#fff" stroke-width="0.1" stroke-linejoin="round" stroke-linecap="round"/>
<path d="M304.0 636.6 L301.3 634.7 L298.7 632.6 L296.2 630.3 L293.9 627.7 L291.8 624.9 L289.9 621.8 L288.2 618.6 L286.6 615.1 L285.3 611.5 L284.1 607.6 L283.1 603.6 L282.4 599.4 L281.9 595.0 L281.5 590.5 L281.4 585.9 L281.5 581.1 L281.8 576.3 L282.3 571.3 L283.0 566.3 L283.9 561.2 L285.0 556.0 L286.3 550.9 L287.8 545.6 L289.5 540.4 L291.4 535.2 L293.5 530.0 L295.7 524.8 L298.1 519.6 L300.7 514.5 L303.4 509.5 L306.3 504.6 L309.4 499.8 L312.5 495.1 L315.8 490.5 L319.2 486.0 L322.7 481.7 L326.3 477.6 L330.0 473.6 L333.8 469.8 L337.6 466.2 L341.5 462.8 L345.5 459.6 L349.5 456.6 L353.5 453.8 L357.5 451.3 L361.6 449.0 L365.6 447.0 L369.6 445.2 L373.6 443.7 L377.5 442.5 L381.4 441.5 L385.3 440.7 L389.0 440.3 L392.7 440.1 L396.3 440.2 L399.8 440.5 L403.2 441.1 L406.5 442.0 L409.6 443.2 L412.6 444.6" fill="none" stroke="#000" stroke-width="0.9" stroke-linejoin="round" stroke-linecap="round"/>
<path d="M307.4 638.6 L304.5 636.7 L301.8 634.7 L299.3 632.3 L296.9 629.8 L294.7 626.9 L292.7 623.9 L290.9 620.6 L289.3 617.1 L287.8 613.4 L286.6 609.4 L285.6 605.3 L284.9 601.1 L284.3 596.6 L283.9 592.0 L283.8 587.3 L283.9 582.4 L284.2 577.5 L284.7 572.4 L285.5 567.2 L286.4 562.0 L287.6 556.7 L289.0 551.4 L290.5 546.1 L292.3 540.7 L294.3 535.4 L296.4 530.1 L298.8 524.8 L301.3 519.5 L304.0 514.4 L306.8 509.3 L309.8 504.3 L313.0 499.4 L316.3 494.6 L319.7 490.0 L323.2 485.5 L326.8 481.1 L330.6 477.0 L334.4 473.0 L338.3 469.2 L342.3 465.6 L346.3 462.3 L350.3 459.1 L354.4 456.2 L358.6 453.6 L362.7 451.2 L366.8 449.0 L370.9 447.1 L375.0 445.5 L379.0 444.1 L383.0 443.0 L387.0 442.2 L390.8 441.7 L394.6 441.5 L398.3 441.5 L401.9 441.9 L405.4 442.5 L408.7 443.4 L412.0 444.5 L415.0 446.0 L418.0 447.7" fill="none" stroke="#000" stroke-width="1.7" stroke-linejoin="round" stroke-linecap="round"/>
<path d="M346.0 660.8 L343.3 659.0 L340.7 656.9 L338.2 654.5 L335.9 652.0 L333.8 649.1 L331.9 646.1 L330.2 642.8 L328.6 639.4 L327.3 635.7 L326.1 631.9 L325.1 627.8 L324.4 623.6 L323.9 619.3 L323.5 614.8 L323.4 610.1 L323.5 605.4 L323.8 600.5 L324.3 595.6 L325.0 590.5 L325.9 585.4 L327.0 580.3 L328.3 575.1 L329.8 569.9 L331.5 564.6 L333.4 559.4 L335.5 554.2 L337.7 549.0 L340.1 543.9 L342.7 538.8 L345.4 533.8 L348.3 528.9 L351.4 524.0 L354.5 519.3 L357.8 514.7 L361.2 510.3 L364.7 506.0 L368.3 501.8 L372.0 497.8 L375.8 494.0 L379.6 490.4 L383.6 487.0 L387.5 483.8 L391.5 480.8 L395.5 478.1 L399.5 475.6 L403.6 473.3 L407.6 471.3 L411.6 469.5 L415.6 468.0 L419.5 466.7 L423.4 465.7 L427.3 465.0 L431.0 464.5 L434.7 464.3 L438.3 464.4 L441.8 464.8 L445.2 465.4 L448.5 466.3 L451.6 467.4 L454.6 468.9" fill="none" stroke="#000" stroke-width="0.9" stroke-linejoin="round" stroke-linecap="round"/>
<path d="M349.4 662.8 L346.5 661.0 L343.8 658.9 L341.3 656.6 L338.9 654.0 L336.7 651.2 L334.7 648.1 L332.9 644.8 L331.3 641.3 L329.8 637.6 L328.6 633.7 L327.6 629.6 L326.9 625.3 L326.3 620.9 L325.9 616.3 L325.8 611.5 L325.9 606.7 L326.2 601.7 L326.7 596.6 L327.5 591.5 L328.4 586.3 L329.6 581.0 L331.0 575.7 L332.5 570.3 L334.3 565.0 L336.3 559.6 L338.4 554.3 L340.8 549.0 L343.3 543.8 L346.0 538.6 L348.8 533.5 L351.8 528.5 L355.0 523.6 L358.3 518.8 L361.7 514.2 L365.2 509.7 L368.8 505.4 L372.6 501.2 L376.4 497.2 L380.3 493.5 L384.3 489.9 L388.3 486.5 L392.3 483.4 L396.4 480.5 L400.6 477.8 L404.7 475.4 L408.8 473.2 L412.9 471.4 L417.0 469.7 L421.0 468.4 L425.0 467.3 L429.0 466.5 L432.8 466.0 L436.6 465.7 L440.3 465.8 L443.9 466.1 L447.4 466.7 L450.7 467.6 L454.0 468.8 L457.0 470.2 L460.0 472.0" fill="none" stroke="#000" stroke-width="1.7" stroke-linejoin="round" stroke-linecap="round"/>
<path d="M393.9 688.5 L391.1 686.7 L388.3 684.6 L385.8 682.3 L383.4 679.7 L381.2 676.9 L379.2 673.8 L377.4 670.5 L375.8 667.0 L374.4 663.3 L373.2 659.4 L372.2 655.3 L371.4 651.0 L370.8 646.6 L370.5 642.0 L370.3 637.2 L370.4 632.4 L370.7 627.4 L371.2 622.3 L372.0 617.2 L372.9 612.0 L374.1 606.7 L375.5 601.4 L377.0 596.0 L378.8 590.7 L380.8 585.3 L382.9 580.0 L385.3 574.7 L387.8 569.5 L390.5 564.3 L393.3 559.2 L396.3 554.2 L399.5 549.3 L402.8 544.5 L406.2 539.9 L409.7 535.4 L413.3 531.1 L417.1 526.9 L420.9 522.9 L424.8 519.2 L428.8 515.6 L432.8 512.2 L436.9 509.1 L440.9 506.2 L445.1 503.5 L449.2 501.1 L453.3 498.9 L457.4 497.1 L461.5 495.4 L465.5 494.1 L469.5 493.0 L473.5 492.2 L477.3 491.7 L481.1 491.4 L484.8 491.5 L488.4 491.8 L491.9 492.4 L495.2 493.3 L498.5 494.5 L501.5 495.9 L504.5 497.7" fill="none" stroke="#000" stroke-width="1.7" stroke-linejoin="round" stroke-linecap="round"/>
<line x1="414.0" y1="445.3" x2="524.2" y2="509.0" stroke="#000" stroke-width="1.7"/>
<line x1="305.3" y1="637.4" x2="415.6" y2="701.0" stroke="#000" stroke-width="1.7"/>
<g transform="matrix(0.866,-0.5,0.866,0.5,356.6,450.6)"><text x="0" y="0" font-size="10" font-weight="bold" text-anchor="middle" textLength="21" lengthAdjust="spacingAndGlyphs" stroke="#000" stroke-width="0.9">min</text></g>
<g transform="matrix(0.866,-0.5,0.866,0.5,408.8,480.6)"><text x="0" y="0" font-size="10" font-weight="bold" text-anchor="middle" textLength="22" lengthAdjust="spacingAndGlyphs" stroke="#000" stroke-width="0.9">max</text></g>
<path d="M293.5 498.5 L298.3 501.3 L299.6 497.8 L304.4 508.6 L294.6 511.2 L295.6 507.3 L290.6 504.4 Z" fill="#fff" stroke="#000" stroke-width="1.2" stroke-linejoin="miter" stroke-linecap="round"/>
<path d="M348.3 534.6 L358.9 532.2 L357.0 536.0 L370.3 542.7 L366.3 548.4 L353.8 541.3 L351.6 543.6 Z" fill="#fff" stroke="#000" stroke-width="1.2" stroke-linejoin="miter" stroke-linecap="round"/>
<ellipse cx="469.9" cy="605.0" rx="110.3" ry="64.2" transform="rotate(-60.5 469.9 605.0)" fill="#fff" stroke="#000" stroke-width="1.2"/>
<path d="M521.2 507.5 L524.3 509.1 L527.2 510.9 L530.0 513.0 L532.6 515.5 L535.0 518.1 L537.2 521.0 L539.3 524.2 L541.1 527.6 L542.7 531.2 L544.1 535.1 L545.3 539.1 L546.2 543.4 L547.0 547.8 L547.5 552.4 L547.8 557.1 L547.8 562.0 L547.6 567.0 L547.2 572.1 L546.6 577.4 L545.8 582.7 L544.7 588.0 L543.4 593.4 L541.9 598.9 L540.2 604.3 L538.3 609.8 L536.1 615.3 L533.8 620.7 L531.3 626.1 L528.6 631.4 L525.8 636.6 L522.8 641.8 L519.6 646.8 L516.3 651.7 L512.8 656.5 L509.2 661.1 L505.5 665.6 L501.7 669.9 L497.8 674.0 L493.9 677.9 L489.8 681.5 L485.7 685.0 L481.6 688.2 L477.4 691.2 L473.2 693.9 L469.0 696.4 L464.7 698.6 L460.6 700.5 L456.4 702.2 L452.3 703.5 L448.2 704.6 L444.2 705.4 L440.2 705.9 L436.4 706.1 L432.6 706.0 L429.0 705.6 L425.4 704.9 L422.0 703.9 L418.8 702.6 L415.7 701.1 L412.7 699.2" fill="none" stroke="#000" stroke-width="1.7" stroke-linejoin="round" stroke-linecap="round"/>
<ellipse cx="469.9" cy="605.0" rx="107.6" ry="61.5" transform="rotate(-60.5 469.9 605.0)" fill="none" stroke="#000" stroke-width="0.9"/>
<ellipse cx="467.3" cy="537.2" rx="23.0" ry="13.3" transform="rotate(-60 467.3 537.2)" fill="#fff" stroke="#505050" stroke-width="1.7"/>
<g transform="matrix(0.866,-0.5,0,1,467.3,537.2)" font-style="italic" text-anchor="middle" fill="#1c1c1c" stroke="#1c1c1c" stroke-width="0.45"><text x="1.0" y="-1.3" font-size="9.4" textLength="27.5" lengthAdjust="spacingAndGlyphs">OBEN</text><text x="0.4" y="8.6" font-size="10" textLength="15" lengthAdjust="spacingAndGlyphs">top</text></g>
<ellipse cx="524.4" cy="571.6" rx="23.0" ry="13.3" transform="rotate(-60 524.4 571.6)" fill="#fff" stroke="#505050" stroke-width="1.7"/>
<g transform="matrix(0.866,-0.5,0,1,524.4,571.6)" font-style="italic" text-anchor="middle" fill="#1c1c1c" stroke="#1c1c1c" stroke-width="0.45"><text x="1.0" y="-1.3" font-size="9.4" textLength="25.2" lengthAdjust="spacingAndGlyphs">KALT</text><text x="0.4" y="8.6" font-size="10" textLength="18.5" lengthAdjust="spacingAndGlyphs">cold</text></g>
<ellipse cx="411.5" cy="634.7" rx="23.0" ry="13.3" transform="rotate(-60 411.5 634.7)" fill="#fff" stroke="#505050" stroke-width="1.7"/>
<g transform="matrix(0.866,-0.5,0,1,411.5,634.7)" font-style="italic" text-anchor="middle" fill="#1c1c1c" stroke="#1c1c1c" stroke-width="0.45"><text x="1.0" y="-1.3" font-size="9.4" textLength="30.8" lengthAdjust="spacingAndGlyphs">WARM</text><text x="0.4" y="8.6" font-size="10" textLength="15" lengthAdjust="spacingAndGlyphs">hot</text></g>
<ellipse cx="469.0" cy="668.8" rx="23.0" ry="13.3" transform="rotate(-60 469.0 668.8)" fill="#fff" stroke="#505050" stroke-width="1.7"/>
<g transform="matrix(0.866,-0.5,0,1,469.0,668.8)" font-style="italic" text-anchor="middle" fill="#1c1c1c" stroke="#1c1c1c" stroke-width="0.45"><text x="1.0" y="-1.3" font-size="9.4" textLength="29.1" lengthAdjust="spacingAndGlyphs">UNTEN</text><text x="0.4" y="8.6" font-size="10" textLength="26.5" lengthAdjust="spacingAndGlyphs">bottom</text></g>
<g transform="matrix(0.866,-0.5,0.18,1,439.5,601.5)"><text x="0" y="0" font-size="13.5" font-weight="bold" font-style="italic" fill="#fff" stroke="#777" stroke-width="0.8" textLength="44" lengthAdjust="spacingAndGlyphs">KLUDI</text></g>
<ellipse cx="488.4" cy="569.2" rx="12.3" ry="7.1" transform="rotate(-60 488.4 569.2)" fill="none" stroke="#777" stroke-width="1.1"/>
<ellipse cx="488.4" cy="569.2" rx="10.0" ry="5.8" transform="rotate(-60 488.4 569.2)" fill="none" stroke="#777" stroke-width="0.9"/>
<path d="M485.3 566.5 C485.3 567.3 485.1 570.3 485.3 571.5 C485.5 572.7 485.8 573.3 486.3 573.6 C486.8 573.9 487.7 573.8 488.4 573.4 C489.1 573.0 490.0 572.1 490.5 571.2 C491.0 570.3 491.3 569.5 491.5 567.9 C491.7 566.3 491.5 562.5 491.5 561.4" fill="none" stroke="#777" stroke-width="1.5" stroke-linejoin="round" stroke-linecap="round"/>
<path d="M488.4 562.7 C488.4 564.0 488.4 569.0 488.4 570.2" fill="none" stroke="#777" stroke-width="1.3" stroke-linejoin="round" stroke-linecap="round"/>
<path d="M482.8 576.5 C483.4 576.4 485.3 577.1 486.7 576.4 C488.0 575.7 489.8 573.9 491.0 572.2 C492.2 570.5 493.5 567.4 494.0 566.5" fill="none" stroke="#777" stroke-width="1.0" stroke-linejoin="round" stroke-linecap="round"/>
<path d="M450.8 604.9 L484.6 585.3 L485.4 623.6 L450.8 644.0 Z" fill="#000" stroke="#000" stroke-width="0.6" stroke-linejoin="round" stroke-linecap="round"/>
<path d="M453.4 615.4l1.30 -0.75l0 1.50l-1.30 0.75ZM453.4 621.4l1.30 -0.75l0 1.50l-1.30 0.75ZM453.4 624.4l1.30 -0.75l0 1.50l-1.30 0.75ZM453.4 629.0l1.30 -0.75l0 1.50l-1.30 0.75ZM453.4 636.5l1.30 -0.75l0 1.50l-1.30 0.75ZM453.4 638.0l1.30 -0.75l0 1.50l-1.30 0.75ZM454.7 607.2l1.30 -0.75l0 1.50l-1.30 0.75ZM454.7 608.7l1.30 -0.75l0 1.50l-1.30 0.75ZM454.7 611.7l1.30 -0.75l0 1.50l-1.30 0.75ZM454.7 637.2l1.30 -0.75l0 1.50l-1.30 0.75ZM456.0 613.9l1.30 -0.75l0 1.50l-1.30 0.75ZM456.0 622.9l1.30 -0.75l0 1.50l-1.30 0.75ZM456.0 629.0l1.30 -0.75l0 1.50l-1.30 0.75ZM456.0 635.0l1.30 -0.75l0 1.50l-1.30 0.75ZM457.3 604.1l1.30 -0.75l0 1.50l-1.30 0.75ZM457.3 605.6l1.30 -0.75l0 1.50l-1.30 0.75ZM457.3 608.6l1.30 -0.75l0 1.50l-1.30 0.75ZM457.3 613.2l1.30 -0.75l0 1.50l-1.30 0.75ZM457.3 616.2l1.30 -0.75l0 1.50l-1.30 0.75ZM457.3 619.2l1.30 -0.75l0 1.50l-1.30 0.75ZM458.6 603.4l1.30 -0.75l0 1.50l-1.30 0.75ZM458.6 613.9l1.30 -0.75l0 1.50l-1.30 0.75ZM458.6 615.4l1.30 -0.75l0 1.50l-1.30 0.75ZM458.6 630.5l1.30 -0.75l0 1.50l-1.30 0.75ZM458.6 632.0l1.30 -0.75l0 1.50l-1.30 0.75ZM459.9 604.1l1.30 -0.75l0 1.50l-1.30 0.75ZM459.9 608.6l1.30 -0.75l0 1.50l-1.30 0.75ZM459.9 616.2l1.30 -0.75l0 1.50l-1.30 0.75ZM459.9 617.7l1.30 -0.75l0 1.50l-1.30 0.75ZM459.9 629.7l1.30 -0.75l0 1.50l-1.30 0.75ZM459.9 632.7l1.30 -0.75l0 1.50l-1.30 0.75ZM461.2 610.9l1.30 -0.75l0 1.50l-1.30 0.75ZM461.2 615.4l1.30 -0.75l0 1.50l-1.30 0.75ZM461.2 616.9l1.30 -0.75l0 1.50l-1.30 0.75ZM461.2 621.4l1.30 -0.75l0 1.50l-1.30 0.75ZM461.2 632.0l1.30 -0.75l0 1.50l-1.30 0.75ZM461.2 633.5l1.30 -0.75l0 1.50l-1.30 0.75ZM462.5 601.1l1.30 -0.75l0 1.50l-1.30 0.75ZM462.5 607.1l1.30 -0.75l0 1.50l-1.30 0.75ZM462.5 616.2l1.30 -0.75l0 1.50l-1.30 0.75ZM463.8 612.4l1.30 -0.75l0 1.50l-1.30 0.75ZM463.8 627.4l1.30 -0.75l0 1.50l-1.30 0.75ZM463.8 630.4l1.30 -0.75l0 1.50l-1.30 0.75ZM465.1 610.1l1.30 -0.75l0 1.50l-1.30 0.75ZM465.1 616.2l1.30 -0.75l0 1.50l-1.30 0.75ZM465.1 626.7l1.30 -0.75l0 1.50l-1.30 0.75ZM466.4 604.9l1.30 -0.75l0 1.50l-1.30 0.75ZM466.4 615.4l1.30 -0.75l0 1.50l-1.30 0.75ZM467.7 598.1l1.30 -0.75l0 1.50l-1.30 0.75ZM467.7 599.6l1.30 -0.75l0 1.50l-1.30 0.75ZM467.7 602.6l1.30 -0.75l0 1.50l-1.30 0.75ZM467.7 610.1l1.30 -0.75l0 1.50l-1.30 0.75ZM467.7 611.6l1.30 -0.75l0 1.50l-1.30 0.75ZM467.7 614.6l1.30 -0.75l0 1.50l-1.30 0.75ZM467.7 619.2l1.30 -0.75l0 1.50l-1.30 0.75ZM467.7 620.7l1.30 -0.75l0 1.50l-1.30 0.75ZM469.0 598.9l1.30 -0.75l0 1.50l-1.30 0.75ZM469.0 601.9l1.30 -0.75l0 1.50l-1.30 0.75ZM469.0 603.4l1.30 -0.75l0 1.50l-1.30 0.75ZM469.0 607.9l1.30 -0.75l0 1.50l-1.30 0.75ZM469.0 622.9l1.30 -0.75l0 1.50l-1.30 0.75ZM469.0 627.4l1.30 -0.75l0 1.50l-1.30 0.75ZM471.6 598.9l1.30 -0.75l0 1.50l-1.30 0.75ZM471.6 606.4l1.30 -0.75l0 1.50l-1.30 0.75ZM471.6 609.4l1.30 -0.75l0 1.50l-1.30 0.75ZM471.6 612.4l1.30 -0.75l0 1.50l-1.30 0.75ZM471.6 616.9l1.30 -0.75l0 1.50l-1.30 0.75ZM471.6 618.4l1.30 -0.75l0 1.50l-1.30 0.75ZM472.9 596.6l1.30 -0.75l0 1.50l-1.30 0.75ZM474.2 595.8l1.30 -0.75l0 1.50l-1.30 0.75ZM474.2 607.9l1.30 -0.75l0 1.50l-1.30 0.75ZM474.2 618.4l1.30 -0.75l0 1.50l-1.30 0.75ZM475.5 593.6l1.30 -0.75l0 1.50l-1.30 0.75ZM475.5 598.1l1.30 -0.75l0 1.50l-1.30 0.75ZM475.5 601.1l1.30 -0.75l0 1.50l-1.30 0.75ZM475.5 602.6l1.30 -0.75l0 1.50l-1.30 0.75ZM475.5 611.6l1.30 -0.75l0 1.50l-1.30 0.75ZM475.5 614.6l1.30 -0.75l0 1.50l-1.30 0.75ZM475.5 619.2l1.30 -0.75l0 1.50l-1.30 0.75ZM476.8 594.3l1.30 -0.75l0 1.50l-1.30 0.75ZM476.8 621.4l1.30 -0.75l0 1.50l-1.30 0.75ZM478.1 593.6l1.30 -0.75l0 1.50l-1.30 0.75ZM478.1 599.6l1.30 -0.75l0 1.50l-1.30 0.75ZM478.1 604.1l1.30 -0.75l0 1.50l-1.30 0.75ZM478.1 611.6l1.30 -0.75l0 1.50l-1.30 0.75ZM478.1 619.1l1.30 -0.75l0 1.50l-1.30 0.75ZM478.1 620.6l1.30 -0.75l0 1.50l-1.30 0.75ZM478.1 622.2l1.30 -0.75l0 1.50l-1.30 0.75ZM478.1 623.7l1.30 -0.75l0 1.50l-1.30 0.75ZM479.4 595.8l1.30 -0.75l0 1.50l-1.30 0.75ZM479.4 597.3l1.30 -0.75l0 1.50l-1.30 0.75ZM479.4 604.9l1.30 -0.75l0 1.50l-1.30 0.75ZM479.4 606.4l1.30 -0.75l0 1.50l-1.30 0.75ZM479.4 619.9l1.30 -0.75l0 1.50l-1.30 0.75ZM480.7 590.6l1.30 -0.75l0 1.50l-1.30 0.75ZM480.7 596.6l1.30 -0.75l0 1.50l-1.30 0.75ZM480.7 598.1l1.30 -0.75l0 1.50l-1.30 0.75ZM480.7 601.1l1.30 -0.75l0 1.50l-1.30 0.75Z" fill="#fff"/>
<path d="M407.0 587.1 L407.4 586.2 L407.8 585.3 L408.2 584.5 L408.7 583.6 L409.1 582.7 L409.5 581.9 L409.9 581.0 L410.4 580.2 L410.8 579.3 L411.3 578.5 L411.7 577.6 L412.2 576.8 L412.6 575.9 L413.1 575.1 L413.6 574.2 L414.0 573.4 L414.5 572.6 L415.0 571.7 L415.5 570.9 L416.0 570.1 L416.5 569.2 L416.9 568.4 L417.4 567.6 L418.0 566.8 L418.5 566.0 L419.0 565.1 L419.5 564.3 L420.0 563.5 L420.5 562.7 L421.1 561.9 L421.6 561.1 L422.1 560.3 L422.7 559.5 L423.2 558.8 L423.8 558.0 L424.3 557.2 L424.9 556.4 L452.9 573.8 L435.1 604.0 Z" fill="#fff" stroke="#fff" stroke-width="0.1" stroke-linejoin="round" stroke-linecap="round"/>
<path d="M407.0 587.1 L407.4 586.2 L407.8 585.3 L408.2 584.5 L408.7 583.6 L409.1 582.7 L409.5 581.9 L409.9 581.0 L410.4 580.2 L410.8 579.3 L411.3 578.5 L411.7 577.6 L412.2 576.8 L412.6 575.9 L413.1 575.1 L413.6 574.2 L414.0 573.4 L414.5 572.6 L415.0 571.7 L415.5 570.9 L416.0 570.1 L416.5 569.2 L416.9 568.4 L417.4 567.6 L418.0 566.8 L418.5 566.0 L419.0 565.1 L419.5 564.3 L420.0 563.5 L420.5 562.7 L421.1 561.9 L421.6 561.1 L422.1 560.3 L422.7 559.5 L423.2 558.8 L423.8 558.0 L424.3 557.2 L424.9 556.4" fill="none" stroke="#000" stroke-width="1.7" stroke-linejoin="round" stroke-linecap="round"/>
<path d="M407.0 587.1 L435.1 604.0" fill="none" stroke="#000" stroke-width="1.7" stroke-linejoin="round" stroke-linecap="round"/>
<path d="M424.9 556.4 L452.9 573.8" fill="none" stroke="#000" stroke-width="1.7" stroke-linejoin="round" stroke-linecap="round"/>
<path d="M452.9 573.8 C451.5 576.6 447.7 585.5 444.7 590.5 C441.7 595.5 436.7 601.8 435.1 604.0" fill="none" stroke="#000" stroke-width="1.7" stroke-linejoin="round" stroke-linecap="round"/>
<path d="M425.0 561.3 L449.6 576.0" fill="none" stroke="#555" stroke-width="0.75" stroke-linejoin="round" stroke-linecap="round"/>
<path d="M423.6 563.2 L448.4 578.0" fill="none" stroke="#555" stroke-width="0.75" stroke-linejoin="round" stroke-linecap="round"/>
<path d="M409.2 585.3 L436.0 600.6" fill="none" stroke="#555" stroke-width="0.75" stroke-linejoin="round" stroke-linecap="round"/>
<path d="M410.6 583.4 L437.3 598.6" fill="none" stroke="#555" stroke-width="0.75" stroke-linejoin="round" stroke-linecap="round"/>
<path d="M450.6 575.2 C449.4 577.6 445.5 585.3 443.2 589.5 C440.9 593.7 437.7 598.8 436.6 600.6" fill="none" stroke="#777" stroke-width="1.1" stroke-linejoin="round" stroke-linecap="round"/>
<path d="M449.0 492.0 L451.0 488.0 L473.4 474.9 L478.0 474.6 L481.0 479.0 L481.1 507.0 L484.3 510.3 L456.3 524.3 L449.0 518.4 Z" fill="#fff" stroke="#fff" stroke-width="0.1" stroke-linejoin="round" stroke-linecap="round"/>
<path d="M449.0 518.4 C449.0 517.1 449.0 507.5 449.0 505.0 C449.0 502.5 448.9 494.6 449.0 493.0 C449.1 491.4 449.8 489.6 450.2 489.0 C450.6 488.4 452.3 487.4 452.5 487.2" fill="none" stroke="#000" stroke-width="1.7" stroke-linejoin="round" stroke-linecap="round"/>
<path d="M452.5 487.2 L473.2 474.9" fill="none" stroke="#000" stroke-width="1.7" stroke-linejoin="round" stroke-linecap="round"/>
<path d="M473.2 474.9 C473.9 474.8 475.2 473.9 476.5 474.2 C477.8 474.5 478.9 475.2 479.8 476.3 C480.7 477.4 480.7 478.9 480.9 479.5" fill="none" stroke="#000" stroke-width="1.7" stroke-linejoin="round" stroke-linecap="round"/>
<path d="M480.9 479.5 L481.1 507.0 L484.3 510.1" fill="none" stroke="#000" stroke-width="1.7" stroke-linejoin="round" stroke-linecap="round"/>
<path d="M449.0 518.4 L454.7 521.5 L456.3 524.1" fill="none" stroke="#000" stroke-width="1.7" stroke-linejoin="round" stroke-linecap="round"/>
<path d="M454.7 521.5 C454.7 519.9 454.7 507.7 454.7 505.0 C454.7 502.3 454.6 495.8 454.7 494.5 C454.8 493.2 455.3 492.0 455.6 491.6 C455.9 491.2 457.3 490.3 457.5 490.2" fill="none" stroke="#000" stroke-width="1.2" stroke-linejoin="round" stroke-linecap="round"/>
<path d="M457.5 490.2 L478.5 477.8" fill="none" stroke="#000" stroke-width="1.2" stroke-linejoin="round" stroke-linecap="round"/>
<path d="M449.8 490.5 L455.0 493.0" fill="none" stroke="#000" stroke-width="0.75" stroke-linejoin="round" stroke-linecap="round"/>
<path d="M481.3 490.7 C482.6 490.8 486.6 490.9 489.0 491.2 C491.4 491.5 493.2 491.5 496.0 492.6 C498.8 493.7 502.7 495.8 506.0 497.6 C509.3 499.4 514.3 502.4 516.0 503.3" fill="none" stroke="#000" stroke-width="1.0" stroke-linejoin="round" stroke-linecap="round"/>
<path d="M516.0 503.5 L558.7 529.3 L558.5 532.3 L516.0 506.9 Z" fill="#fff" stroke="#000" stroke-width="1.7" stroke-linejoin="round" stroke-linecap="round"/>
<path d="M543.0 520.8 L557.5 531.3" fill="none" stroke="#000" stroke-width="0.75" stroke-linejoin="round" stroke-linecap="round"/>
<path d="M407.0 693.0 L451.6 715.3 L448.4 717.8 L405.8 696.0 Z" fill="#fff" stroke="#000" stroke-width="1.7" stroke-linejoin="round" stroke-linecap="round"/>
<path d="M409.0 696.2 L446.0 714.6" fill="none" stroke="#555" stroke-width="0.75" stroke-linejoin="round" stroke-linecap="round"/>
<path d="M557.3 633.8 C557.5 634.6 558.7 636.3 558.6 638.5 C558.5 640.7 557.7 643.9 556.5 647.0 C555.3 650.1 553.2 654.2 551.5 657.0 C549.8 659.8 547.7 661.9 546.0 663.5 C544.3 665.1 542.1 666.2 541.3 666.7" fill="none" stroke="#000" stroke-width="2.3" stroke-linejoin="round" stroke-linecap="round"/>
<path d="M533.3 620.4 L557.3 633.8" fill="none" stroke="#000" stroke-width="1.7" stroke-linejoin="round" stroke-linecap="round"/>
<path d="M515.6 652.4 L541.3 666.7" fill="none" stroke="#000" stroke-width="1.7" stroke-linejoin="round" stroke-linecap="round"/>
<line x1="171.5" y1="139.0" x2="267.0" y2="84.6" stroke="#000" stroke-width="1.2"/>
<line x1="315.9" y1="56.5" x2="411.5" y2="2.0" stroke="#000" stroke-width="1.2"/>
<path d="M171.5 139.0 L185.2 125.7 L189.9 134.0 Z" fill="#000"/>
<path d="M411.5 2.0 L397.8 15.3 L393.1 7.0 Z" fill="#000"/>
<line x1="411.5" y1="0.0" x2="411.5" y2="432.0" stroke="#000" stroke-width="1.2"/>
<line x1="171.5" y1="139.0" x2="171.5" y2="539.0" stroke="#000" stroke-width="1.2"/>
<text x="267.2" y="80.4" font-size="29.6" text-anchor="start" >180</text>
<line x1="157.6" y1="194.0" x2="237.0" y2="148.6" stroke="#000" stroke-width="1.2"/>
<line x1="287.0" y1="119.9" x2="367.4" y2="73.8" stroke="#000" stroke-width="1.2"/>
<path d="M157.6 194.0 L171.3 180.6 L176.0 189.0 Z" fill="#000"/>
<path d="M367.4 73.8 L353.7 87.2 L349.0 78.8 Z" fill="#000"/>
<line x1="157.6" y1="194.0" x2="157.6" y2="498.0" stroke="#000" stroke-width="1.2"/>
<line x1="367.4" y1="73.8" x2="367.4" y2="387.0" stroke="#000" stroke-width="1.2"/>
<text x="238.0" y="144.0" font-size="29.6" text-anchor="start" >160</text>
<line x1="261.1" y1="165.1" x2="307.4" y2="191.6" stroke="#000" stroke-width="1.2"/>
<line x1="356.3" y1="219.4" x2="402.9" y2="245.7" stroke="#000" stroke-width="1.2"/>
<path d="M261.1 165.1 L279.6 170.1 L274.8 178.4 Z" fill="#000"/>
<path d="M402.9 245.7 L384.4 240.7 L389.2 232.4 Z" fill="#000"/>
<line x1="261.1" y1="164.0" x2="261.1" y2="363.0" stroke="#000" stroke-width="1.2"/>
<line x1="402.9" y1="241.0" x2="402.9" y2="473.5" stroke="#000" stroke-width="1.2"/>
<text x="308.3" y="215.6" font-size="29.6" text-anchor="start" >105</text>
<line x1="261.1" y1="223.0" x2="294.1" y2="241.1" stroke="#000" stroke-width="1.2"/>
<line x1="326.7" y1="259.6" x2="359.6" y2="278.0" stroke="#000" stroke-width="1.2"/>
<path d="M261.1 223.0 L279.6 227.7 L275.0 236.1 Z" fill="#000"/>
<path d="M359.6 278.0 L341.1 273.3 L345.7 264.9 Z" fill="#000"/>
<line x1="359.6" y1="274.0" x2="359.6" y2="445.0" stroke="#000" stroke-width="1.2"/>
<text x="294.3" y="260.3" font-size="29.6" text-anchor="start" >75</text>
<line x1="63.7" y1="477.4" x2="63.7" y2="583.0" stroke="#000" stroke-width="1.2"/>
<line x1="63.7" y1="615.6" x2="63.7" y2="719.6" stroke="#000" stroke-width="1.2"/>
<path d="M63.7 477.4 L68.5 495.9 L58.9 495.9 Z" fill="#000"/>
<path d="M63.7 719.6 L58.9 701.1 L68.5 701.1 Z" fill="#000"/>
<line x1="63.7" y1="477.4" x2="267.8" y2="361.5" stroke="#000" stroke-width="1.2"/>
<line x1="63.7" y1="719.6" x2="203.0" y2="640.5" stroke="#000" stroke-width="1.2"/>
<text x="39.6" y="609.0" font-size="29.6" text-anchor="start" >160</text>
<line x1="21.2" y1="520.8" x2="21.2" y2="641.5" stroke="#000" stroke-width="1.2"/>
<line x1="21.2" y1="675.6" x2="21.2" y2="797.7" stroke="#000" stroke-width="1.2"/>
<path d="M21.2 520.8 L26.0 539.3 L16.4 539.3 Z" fill="#000"/>
<path d="M21.2 797.7 L16.4 779.2 L26.0 779.2 Z" fill="#000"/>
<line x1="21.2" y1="520.8" x2="270.0" y2="379.5" stroke="#000" stroke-width="1.2"/>
<line x1="21.2" y1="797.7" x2="276.0" y2="653.0" stroke="#000" stroke-width="1.2"/>
<text x="-0.3" y="669.0" font-size="29.6" text-anchor="start" >180</text>
<line x1="88.2" y1="653.4" x2="136.0" y2="653.4" stroke="#000" stroke-width="1.2"/>
<line x1="136.0" y1="653.4" x2="170.6" y2="588.8" stroke="#000" stroke-width="1.2"/>
<path d="M170.6 588.8 L166.1 607.4 L157.7 602.9 Z" fill="#000"/>
<text x="88.0" y="646.6" font-size="29.6" text-anchor="start" textLength="46.3" lengthAdjust="spacingAndGlyphs">G½</text>
<line x1="602.7" y1="548.0" x2="675.0" y2="548.0" stroke="#000" stroke-width="1.2"/>
<line x1="602.7" y1="548.0" x2="550.3" y2="569.4" stroke="#000" stroke-width="1.2"/>
<path d="M550.3 569.4 L565.6 558.0 L569.2 566.8 Z" fill="#000"/>
<text x="604.3" y="541.2" font-size="29.6" text-anchor="start" >Ø116</text>
</svg>
</body></html>
